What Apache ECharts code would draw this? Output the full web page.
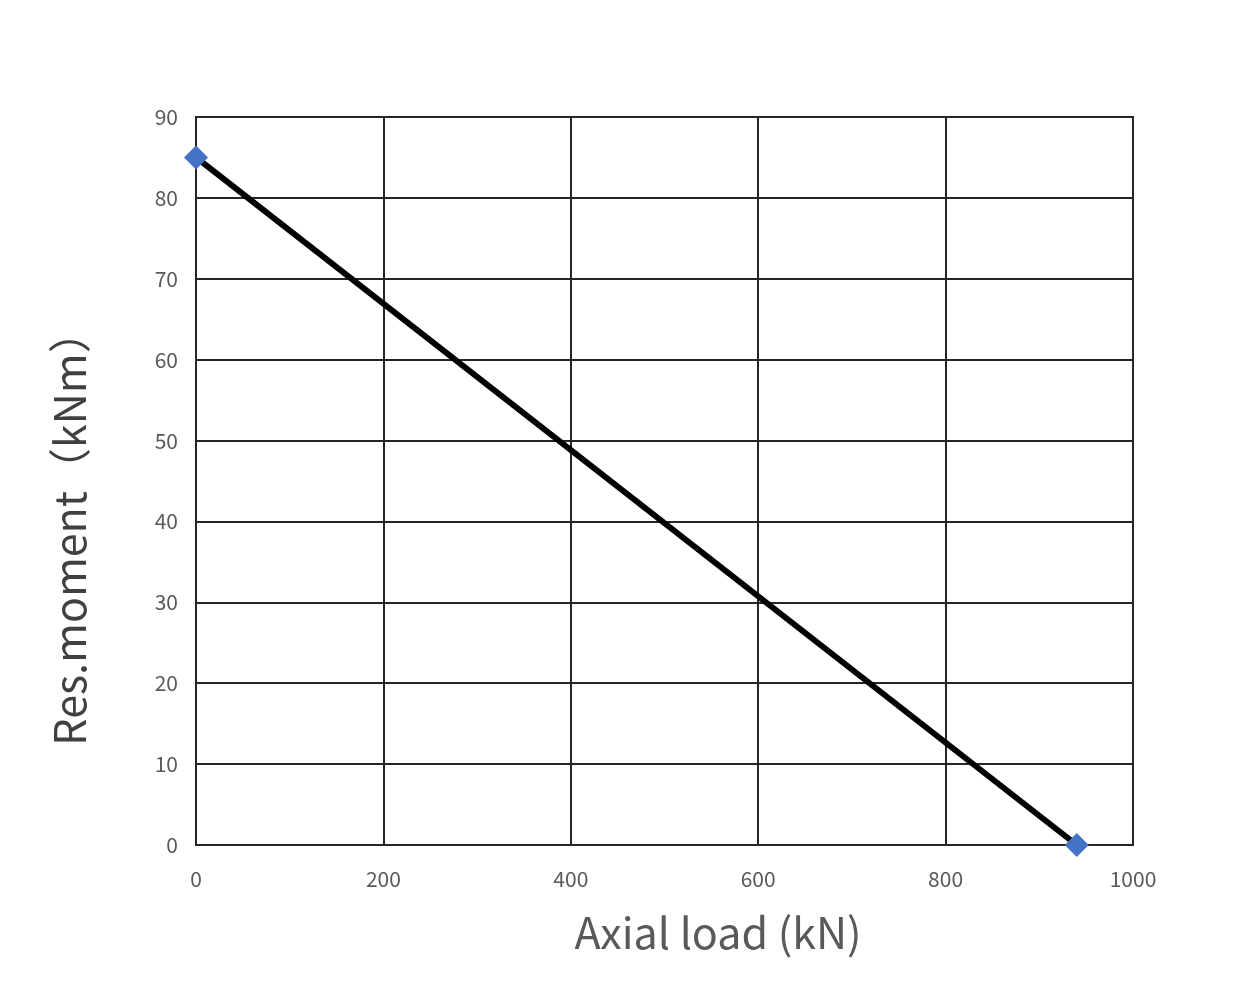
<!DOCTYPE html>
<html><head><meta charset="utf-8">
<script src="https://cdn.jsdelivr.net/npm/echarts@6/dist/echarts.min.js"></script>
<style>html,body{margin:0;padding:0;background:#fff}#c{width:1260px;height:990px}</style>
</head><body><div id="c"></div>
<script>
const axialLoad = [0, 940];
const resMoment = [85, 0];
const xTitle = 'Axial load (kN)';
const yTitle = 'Res.moment（kNm）';
const font = '"Noto Sans CJK SC", "Open Sans", sans-serif';

const chart = echarts.init(document.getElementById('c'), null, {renderer: 'canvas'});
chart.setOption({
  animation: false,
  backgroundColor: '#fff',
  grid: {left: 196, top: 117, width: 937, height: 728, show: false},
  xAxis: {
    type: 'value', min: 0, max: 1000, interval: 200,
    axisLine: {show: true, lineStyle: {color: '#262626', width: 2}},
    axisTick: {show: false},
    splitLine: {show: true, lineStyle: {color: '#262626', width: 2}},
    axisLabel: {color: '#595959', fontSize: 21, fontFamily: font, margin: 24, formatter: v => String(v)}
  },
  yAxis: {
    type: 'value', min: 0, max: 90, interval: 10,
    axisLine: {show: true, lineStyle: {color: '#262626', width: 2}},
    axisTick: {show: false},
    splitLine: {show: true, lineStyle: {color: '#262626', width: 2}},
    axisLabel: {color: '#595959', fontSize: 21, fontFamily: font, margin: 18}
  },
  graphic: [
    {type: 'rect', shape: {x: 196, y: 117, width: 937, height: 728}, style: {fill: 'none', stroke: '#262626', lineWidth: 2}, z: 1},
    {type: 'text', x: 718, y: 933, style: {text: xTitle, font: '43px ' + font, fill: '#595959', textAlign: 'center', textVerticalAlign: 'middle'}},
    {type: 'text', x: 70, y: 528, rotation: Math.PI / 2, style: {text: yTitle, font: '43px ' + font, fill: '#404040', textAlign: 'center', textVerticalAlign: 'middle'}}
  ],
  series: [{
    type: 'line',
    data: axialLoad.map((x, i) => [x, resMoment[i]]),
    lineStyle: {color: '#000', width: 6},
    symbol: 'diamond', symbolSize: 24,
    itemStyle: {color: '#4472C4'},
    z: 5
  }]
});
</script></body></html>
